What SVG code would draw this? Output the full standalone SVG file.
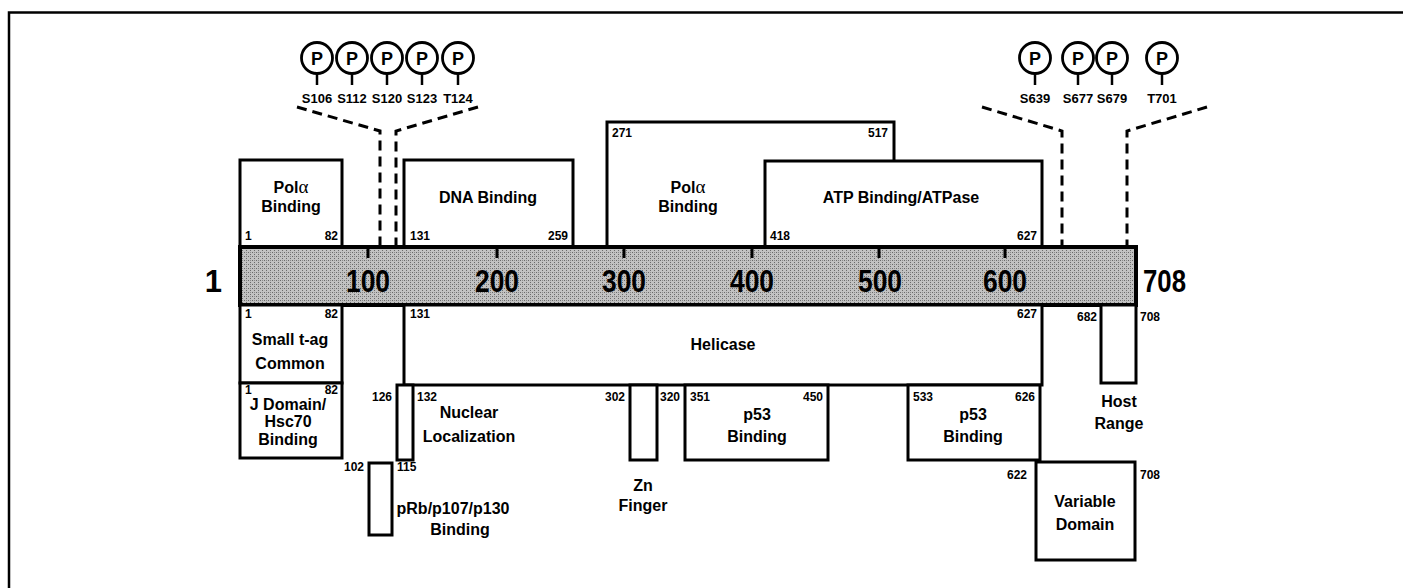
<svg xmlns="http://www.w3.org/2000/svg" width="1403" height="588" viewBox="0 0 1403 588">
<style>
text{font-family:"Liberation Sans",Arial,sans-serif;font-weight:bold;fill:#000}
.n{font-size:12px}
.l{font-size:16px;text-anchor:middle}
.s{font-size:13px;text-anchor:middle}
.p{font-size:18px;text-anchor:middle}
.big{font-size:31px}
.e{text-anchor:end}
.a{font-family:"Liberation Serif","DejaVu Serif",serif;font-weight:normal;font-size:19px}
.box{fill:#fff;stroke:#000;stroke-width:3}
.dash{fill:none;stroke:#000;stroke-width:3;stroke-dasharray:10,6}
.stem{stroke:#000;stroke-width:2.5}
.pc{fill:#fff;stroke:#000;stroke-width:2.8}
</style>
<defs>
<pattern id="dots" width="4" height="4" patternUnits="userSpaceOnUse">
<rect width="4" height="4" fill="#c2c2c2"/>
<rect x="0" y="0" width="1" height="1" fill="#6a6a6a"/>
<rect x="2" y="2" width="1" height="1" fill="#6a6a6a"/>
<rect x="2" y="0" width="1" height="1" fill="#8a8a8a"/>
</pattern>
</defs>
<path d="M9,600 V12.5 H1403" fill="none" stroke="#000" stroke-width="2.5"/>

<g id="connectors">
<polyline class="dash" points="297,107 380,131 380,247"/>
<polyline class="dash" points="478,107 396,131 396,247"/>
<polyline class="dash" points="982,107 1062,131 1062,247"/>
<polyline class="dash" points="1207,107 1127,131 1127,247"/>
</g>

<g id="phospho-left">
<g id="p-S106"><line class="stem" x1="317" y1="73" x2="317" y2="85"/><circle class="pc" cx="317" cy="58" r="15.5"/><text class="p" x="317" y="64.5">P</text><text class="s" x="317" y="103">S106</text></g>
<g id="p-S112"><line class="stem" x1="352" y1="73" x2="352" y2="85"/><circle class="pc" cx="352" cy="58" r="15.5"/><text class="p" x="352" y="64.5">P</text><text class="s" x="352" y="103">S112</text></g>
<g id="p-S120"><line class="stem" x1="387" y1="73" x2="387" y2="85"/><circle class="pc" cx="387" cy="58" r="15.5"/><text class="p" x="387" y="64.5">P</text><text class="s" x="387" y="103">S120</text></g>
<g id="p-S123"><line class="stem" x1="422" y1="73" x2="422" y2="85"/><circle class="pc" cx="422" cy="58" r="15.5"/><text class="p" x="422" y="64.5">P</text><text class="s" x="422" y="103">S123</text></g>
<g id="p-T124"><line class="stem" x1="458" y1="73" x2="458" y2="85"/><circle class="pc" cx="458" cy="58" r="15.5"/><text class="p" x="458" y="64.5">P</text><text class="s" x="458" y="103">T124</text></g>
</g>
<g id="phospho-right">
<g id="p-S639"><line class="stem" x1="1035" y1="73" x2="1035" y2="85"/><circle class="pc" cx="1035" cy="58" r="15.5"/><text class="p" x="1035" y="64.5">P</text><text class="s" x="1035" y="103">S639</text></g>
<g id="p-S677"><line class="stem" x1="1078" y1="73" x2="1078" y2="85"/><circle class="pc" cx="1078" cy="58" r="15.5"/><text class="p" x="1078" y="64.5">P</text><text class="s" x="1078" y="103">S677</text></g>
<g id="p-S679"><line class="stem" x1="1112" y1="73" x2="1112" y2="85"/><circle class="pc" cx="1112" cy="58" r="15.5"/><text class="p" x="1112" y="64.5">P</text><text class="s" x="1112" y="103">S679</text></g>
<g id="p-T701"><line class="stem" x1="1162" y1="73" x2="1162" y2="85"/><circle class="pc" cx="1162" cy="58" r="15.5"/><text class="p" x="1162" y="64.5">P</text><text class="s" x="1162" y="103">T701</text></g>
</g>

<g id="pol-alpha-small">
<rect class="box" x="240" y="160" width="102" height="87"/>
<text class="l" x="291" y="193">Pol<tspan class="a">α</tspan></text>
<text class="l" x="291" y="212">Binding</text>
<text class="n" x="245" y="240">1</text><text class="n e" x="338" y="240">82</text>
</g>
<g id="dna-binding">
<rect class="box" x="404" y="160" width="169" height="87"/>
<text class="l" x="488" y="203">DNA Binding</text>
<text class="n" x="410" y="240">131</text><text class="n e" x="568" y="240">259</text>
</g>
<g id="pol-alpha-large">
<rect class="box" x="607" y="122" width="287" height="125"/>
<text class="l" x="688" y="193">Pol<tspan class="a">α</tspan></text>
<text class="l" x="688" y="212">Binding</text>
<text class="n" x="612" y="137">271</text><text class="n e" x="888" y="137">517</text>
</g>
<g id="atp-binding">
<rect class="box" x="765" y="161" width="277" height="86"/>
<text class="l" x="901" y="203">ATP Binding/ATPase</text>
<text class="n" x="770" y="240">418</text><text class="n e" x="1037" y="240">627</text>
</g>

<g id="bar">
<rect x="240" y="247" width="896" height="58" fill="url(#dots)" stroke="#000" stroke-width="4"/>
<g stroke="#000" stroke-width="3">
<line x1="368" y1="248" x2="368" y2="258"/>
<line x1="497" y1="248" x2="497" y2="258"/>
<line x1="624" y1="248" x2="624" y2="258"/>
<line x1="752" y1="248" x2="752" y2="258"/>
<line x1="879" y1="248" x2="879" y2="258"/>
<line x1="1005" y1="248" x2="1005" y2="258"/>
</g>
<text class="big" x="368" y="292" text-anchor="middle" textLength="44" lengthAdjust="spacingAndGlyphs">100</text>
<text class="big" x="497" y="292" text-anchor="middle" textLength="44" lengthAdjust="spacingAndGlyphs">200</text>
<text class="big" x="624" y="292" text-anchor="middle" textLength="44" lengthAdjust="spacingAndGlyphs">300</text>
<text class="big" x="752" y="292" text-anchor="middle" textLength="44" lengthAdjust="spacingAndGlyphs">400</text>
<text class="big" x="880" y="292" text-anchor="middle" textLength="44" lengthAdjust="spacingAndGlyphs">500</text>
<text class="big" x="1005" y="292" text-anchor="middle" textLength="44" lengthAdjust="spacingAndGlyphs">600</text>
<text class="big" x="222" y="292" text-anchor="end">1</text>
<text class="big" x="1143" y="292" textLength="43" lengthAdjust="spacingAndGlyphs">708</text>
</g>

<g id="small-t-common">
<rect class="box" x="240" y="305" width="102" height="78"/>
<text class="n" x="245" y="318">1</text><text class="n e" x="338" y="318">82</text>
<text class="l" x="290" y="345">Small t-ag</text>
<text class="l" x="290" y="369">Common</text>
</g>
<g id="j-domain">
<rect class="box" x="240" y="383" width="102" height="75"/>
<text class="n" x="245" y="394">1</text><text class="n e" x="338" y="394">82</text>
<text class="l" x="288" y="410">J Domain/</text>
<text class="l" x="288" y="427">Hsc70</text>
<text class="l" x="288" y="445">Binding</text>
</g>
<g id="helicase">
<rect class="box" x="404" y="305" width="638" height="80"/>
<text class="n" x="410" y="318">131</text><text class="n e" x="1037" y="318">627</text>
<text class="l" x="723" y="350">Helicase</text>
</g>
<g id="nuclear-localization">
<rect class="box" x="397" y="385" width="16" height="75"/>
<text class="n e" x="392" y="401">126</text><text class="n" x="417" y="401">132</text>
<text class="l" x="469" y="418">Nuclear</text>
<text class="l" x="469" y="442">Localization</text>
</g>
<g id="prb-binding">
<rect class="box" x="369" y="463" width="23" height="72"/>
<text class="n e" x="364" y="471">102</text><text class="n" x="397" y="471">115</text>
<text class="l" x="453" y="514">pRb/p107/p130</text>
<text class="l" x="460" y="535">Binding</text>
</g>
<g id="zn-finger">
<rect class="box" x="630" y="385" width="27" height="75"/>
<text class="n e" x="625" y="401">302</text><text class="n" x="660" y="401">320</text>
<text class="l" x="643" y="491">Zn</text>
<text class="l" x="643" y="511">Finger</text>
</g>
<g id="p53-binding-1">
<rect class="box" x="685" y="385" width="143" height="75"/>
<text class="n" x="690" y="401">351</text><text class="n e" x="823" y="401">450</text>
<text class="l" x="757" y="420">p53</text>
<text class="l" x="757" y="442">Binding</text>
</g>
<g id="p53-binding-2">
<rect class="box" x="908" y="385" width="132" height="75"/>
<text class="n" x="913" y="401">533</text><text class="n e" x="1035" y="401">626</text>
<text class="l" x="973" y="420">p53</text>
<text class="l" x="973" y="442">Binding</text>
</g>
<g id="host-range">
<rect class="box" x="1101" y="305" width="35" height="78"/>
<text class="n e" x="1097" y="321">682</text><text class="n" x="1140" y="321">708</text>
<text class="l" x="1119" y="407">Host</text>
<text class="l" x="1119" y="429">Range</text>
</g>
<g id="variable-domain">
<rect class="box" x="1036" y="462" width="99" height="98"/>
<text class="n e" x="1027" y="479">622</text><text class="n" x="1140" y="479">708</text>
<text class="l" x="1085" y="507">Variable</text>
<text class="l" x="1085" y="530">Domain</text>
</g>
</svg>
